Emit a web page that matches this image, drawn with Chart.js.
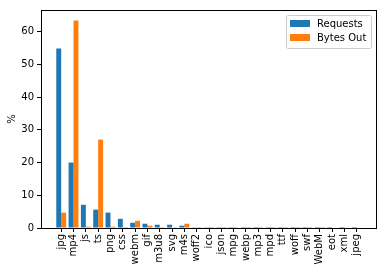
<!DOCTYPE html>
<html>
<head>
<meta charset="utf-8">
<script src="https://cdn.jsdelivr.net/npm/chart.js@4/dist/chart.umd.min.js"></script>
<style>
  html, body { margin: 0; padding: 0; background: #fff; }
  #wrap { width: 386px; height: 273px; }
</style>
</head>
<body>
<div id="wrap"><canvas id="chart"></canvas></div>
<script>
// ===== Data =====
const categories = ['jpg', 'mp4', 'js', 'ts', 'png', 'css', 'webm', 'gif', 'm3u8', 'svg', 'm4s', 'woff2',
  'ico', 'json', 'mpg', 'webp', 'mp3', 'mpd', 'ttf', 'woff', 'swf', 'WebM', 'eot', 'xml', 'jpeg'];
const requests = [54.8, 20.0, 7.1, 5.6, 4.7, 2.8, 1.6, 1.3, 1.0, 1.0, 0.7, 0.08,
  0.06, 0.05, 0.03, 0.03, 0.02, 0.02, 0.02, 0.01, 0.01, 0.01, 0.01, 0.01, 0.01];
const bytesOut = [4.7, 63.4, 0.4, 27.0, 0.4, 0.05, 2.2, 0.7, 0.05, 0.08, 1.3, 0.02,
  0.01, 0.01, 0.25, 0.02, 0.02, 0.01, 0.01, 0.01, 0.01, 0.01, 0.0, 0.0, 0.0];
const seriesNames = ['Requests', 'Bytes Out'];
const yTicks = [0, 10, 20, 30, 40, 50, 60];

const colors = { blue: '#1f77b4', orange: '#ff7f0e', text: '#000', spine: '#000' };
const font = { family: "'DejaVu Sans', sans-serif", size: 10 };

// frame around the axes + legend inside, like matplotlib
const framePlugin = {
  id: 'frame',
  afterDraw(chart) {
    const { ctx, chartArea: a } = chart;
    ctx.save();
    ctx.strokeStyle = colors.spine;
    ctx.lineWidth = 1;
    ctx.strokeRect(a.left + 0.5, a.top + 0.5, a.right - a.left - 1, a.bottom - a.top);

    // legend box
    const bx = 286, by = 15, bw = 85, bh = 33;
    ctx.fillStyle = 'rgba(255,255,255,0.8)';
    ctx.strokeStyle = '#cccccc';
    ctx.beginPath();
    ctx.roundRect(bx + 0.5, by + 0.5, bw, bh, 2);
    ctx.fill();
    ctx.stroke();
    ctx.font = `${font.size}px ${font.family}`;
    ctx.textBaseline = 'middle';
    chart.data.datasets.forEach((ds, i) => {
      const y = by + 5 + i * 14;
      ctx.fillStyle = ds.backgroundColor;
      ctx.fillRect(bx + 4, y, 20, 7);
      ctx.fillStyle = colors.text;
      ctx.fillText(ds.label, bx + 31, y + 4);
    });
    ctx.restore();
  }
};

new Chart(document.getElementById('chart'), {
  type: 'bar',
  data: {
    datasets: [
      { label: seriesNames[0], data: requests.map((v, i) => ({ x: i, y: v })), backgroundColor: colors.blue },
      { label: seriesNames[1], data: bytesOut.map((v, i) => ({ x: i, y: v })), backgroundColor: colors.orange }
    ]
  },
  options: {
    responsive: true,
    maintainAspectRatio: false,
    animation: false,
    layout: { padding: { left: 6, top: 10, right: 9, bottom: 0 } },
    datasets: { bar: { categoryPercentage: 0.8, barPercentage: 1.0, borderWidth: 0 } },
    plugins: { legend: { display: false }, tooltip: { enabled: false } },
    scales: {
      x: {
        type: 'linear',
        offset: false,
        min: -1.64,
        max: 25.64,
        afterBuildTicks: scale => { scale.ticks = categories.map((_, i) => ({ value: i })); },
        afterFit: scale => { scale.height = 45; },
        grid: { drawOnChartArea: false, drawTicks: true, tickLength: 4, color: colors.spine, offset: false },
        border: { display: false },
        ticks: {
          autoSkip: false,
          minRotation: 90,
          maxRotation: 90,
          padding: 2,
          color: colors.text,
          font,
          callback: v => categories[v]
        }
      },
      y: {
        min: 0,
        max: 66.6,
        afterBuildTicks: scale => { scale.ticks = yTicks.map(v => ({ value: v })); },
        afterFit: scale => { scale.width = 35; },
        grid: { drawOnChartArea: false, drawTicks: true, tickLength: 4, color: colors.spine },
        border: { display: false },
        title: { display: true, text: '%', color: colors.text, font, padding: { top: 0, bottom: 0 } },
        ticks: { color: colors.text, font, padding: 3 }
      }
    }
  },
  plugins: [framePlugin]
});
</script>
</body>
</html>
